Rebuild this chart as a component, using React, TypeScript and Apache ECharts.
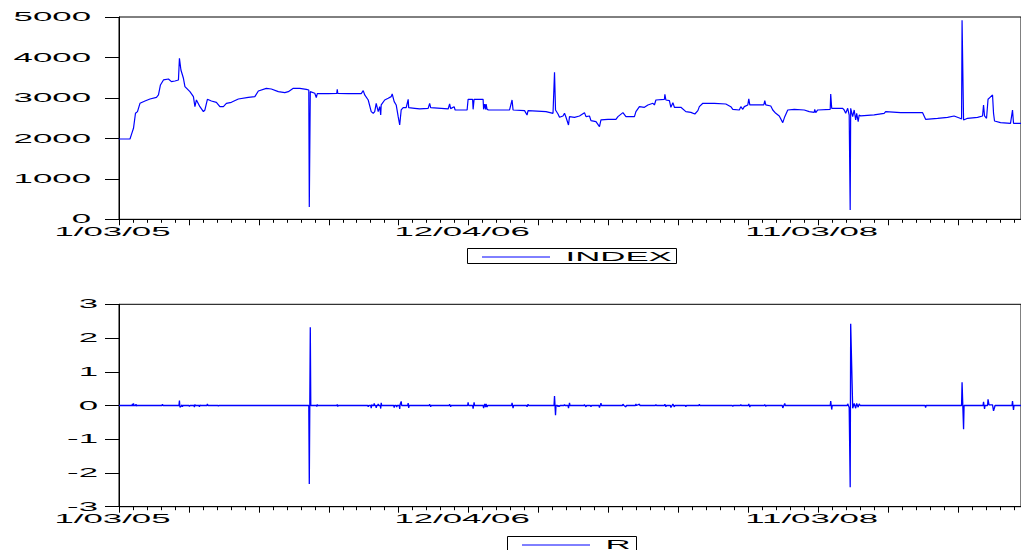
import React, { useEffect, useRef } from "react";
import * as echarts from "echarts";

// ---- data (day offset from 1/03/05, value) ----
const indexPoints: [number, number][] = [
  [0, 1985], [22, 1985], [25, 2100], [29, 2249], [33, 2620], [37, 2661], [42, 2867], [52, 2924], [62, 2974],
  [75, 3015], [79, 3073], [83, 3320], [89, 3444], [99, 3468], [105, 3402], [112, 3419], [119, 3444], [121, 3979],
  [124, 3691], [129, 3485], [132, 3279], [142, 3155], [149, 3032], [152, 2784], [155, 2949], [162, 2784], [169, 2661],
  [172, 2702], [177, 2966], [185, 2924], [195, 2891], [202, 2784], [209, 2784], [215, 2866], [225, 2891], [239, 2974],
  [259, 3015], [272, 3032], [279, 3172], [295, 3237], [305, 3221], [319, 3155], [332, 3130], [339, 3155], [349, 3237],
  [362, 3237], [375, 3213], [380, 3196], [381, 304], [383, 3155], [392, 3114], [395, 3007], [397, 3106], [419, 3106],
  [436, 3114], [437, 3213], [438, 3114], [459, 3106], [485, 3106], [489, 3180], [492, 3073], [499, 2949], [505, 2661],
  [509, 2620], [512, 2661], [515, 2867], [519, 2661], [522, 2784], [524, 2578], [525, 2826], [532, 2949], [539, 2990],
  [545, 3032], [547, 3097], [551, 2908], [555, 2826], [559, 2537], [562, 2331], [565, 2702], [569, 2760], [575, 2760],
  [579, 2966], [580, 2760], [592, 2743], [602, 2727], [619, 2743], [622, 2867], [624, 2760], [659, 2727], [662, 2850],
  [664, 2735], [671, 2784], [673, 2702], [697, 2702], [699, 2966], [708, 2966], [709, 2718], [711, 2966], [725, 2966],
  [729, 2966], [730, 2718], [732, 2850], [734, 2718], [735, 2850], [737, 2718], [740, 2702], [782, 2702], [787, 2949],
  [789, 2702], [812, 2686], [817, 2578], [819, 2686], [855, 2661], [869, 2620], [872, 3633], [874, 2702], [879, 2603],
  [882, 2521], [889, 2554], [892, 2620], [895, 2521], [900, 2331], [902, 2537], [912, 2521], [922, 2554], [932, 2636],
  [935, 2537], [942, 2554], [945, 2438], [955, 2414], [962, 2290], [965, 2455], [979, 2471], [995, 2471], [999, 2537],
  [1009, 2636], [1015, 2537], [1032, 2537], [1035, 2661], [1042, 2784], [1052, 2768], [1059, 2826], [1069, 2867],
  [1072, 2826], [1075, 2949], [1092, 2966], [1093, 3089], [1095, 2949], [1102, 2933], [1105, 2768], [1109, 2883],
  [1112, 2768], [1125, 2768], [1135, 2661], [1145, 2644], [1153, 2603], [1159, 2686], [1162, 2784], [1169, 2867],
  [1192, 2867], [1215, 2850], [1225, 2784], [1229, 2718], [1242, 2702], [1245, 2784], [1249, 2718], [1252, 2784],
  [1259, 2826], [1261, 2974], [1263, 2826], [1291, 2826], [1293, 2933], [1295, 2826], [1305, 2801], [1309, 2702],
  [1315, 2620], [1322, 2554], [1329, 2389], [1333, 2537], [1339, 2702], [1352, 2718], [1372, 2702], [1382, 2661],
  [1392, 2644], [1393, 2718], [1395, 2636], [1399, 2702], [1424, 2718], [1425, 3098], [1427, 2743], [1449, 2743],
  [1452, 2702], [1455, 2620], [1459, 2743], [1462, 2578], [1464, 230], [1465, 2743], [1469, 2537], [1472, 2702],
  [1475, 2455], [1477, 2620], [1480, 2414], [1482, 2578], [1485, 2554], [1512, 2579], [1532, 2620], [1535, 2661],
  [1565, 2636], [1609, 2636], [1615, 2471], [1639, 2496], [1659, 2521], [1672, 2554], [1684, 2496], [1687, 2480],
  [1688, 4920], [1691, 2455], [1699, 2496], [1719, 2521], [1729, 2554], [1731, 2826], [1733, 2554], [1737, 2496],
  [1740, 2966], [1744, 3015], [1749, 3073], [1751, 2620], [1753, 2430], [1765, 2389], [1785, 2372], [1789, 2702],
  [1791, 2372], [1806, 2372],
];

const returnPoints: [number, number][] = [
  [0, 0], [26, 0], [27, 0.05], [28, -0.02], [29, 0.06], [30, 0], [33, 0], [34, 0.04], [35, -0.02], [36, 0],
  [86, 0], [87, 0.04], [88, 0],
  [120, 0], [121, 0.15], [122, -0.05], [124, -0.03], [126, 0.02], [127, -0.04], [128, 0],
  [140, 0], [141, -0.03], [142, 0],
  [150, 0], [151, -0.05], [152, 0.03], [153, 0],
  [160, 0], [161, -0.04], [162, 0.02], [163, 0],
  [176, 0], [177, 0.05], [178, 0],
  [198, 0], [199, -0.02], [200, 0],
  [380, 0], [381, -2.33], [383, 2.32], [384, 0],
  [395, 0], [396, -0.03], [397, 0.03], [398, 0],
  [436, 0], [437, 0.03], [438, -0.03], [439, 0],
  [498, 0], [499, -0.04], [500, 0],
  [504, 0], [505, -0.08], [506, 0.03], [507, 0],
  [510, 0], [511, 0.06], [512, 0],
  [514, 0], [515, -0.07], [516, 0],
  [518, 0], [519, 0.05], [520, 0],
  [523, 0], [524, -0.09], [525, 0.08], [526, 0],
  [550, 0], [551, -0.06], [552, 0],
  [555, 0], [556, -0.05], [557, 0],
  [561, 0], [562, -0.1], [563, 0.04], [565, 0.12], [566, 0],
  [578, 0], [579, 0.07], [580, -0.07], [581, 0],
  [621, 0], [622, 0.04], [624, -0.04], [625, 0],
  [661, 0], [662, 0.04], [664, -0.04], [665, 0],
  [698, 0], [699, 0.09], [700, 0],
  [708, 0], [709, -0.09], [711, 0.09], [712, 0],
  [729, 0], [730, -0.08], [732, 0.05], [734, -0.05], [735, 0.05], [737, -0.05], [738, 0],
  [786, 0], [787, 0.08], [789, -0.08], [790, 0],
  [816, 0], [817, -0.04], [819, 0.04], [820, 0],
  [871, 0], [872, 0.28], [874, -0.29], [875, 0],
  [878, 0], [879, -0.04], [880, 0], [882, -0.03], [883, 0],
  [891, 0], [892, 0.03], [893, 0],
  [899, 0], [900, -0.08], [902, 0.08], [903, 0],
  [931, 0], [932, 0.03], [933, 0], [935, -0.04], [936, 0],
  [944, 0], [945, -0.04], [946, 0],
  [961, 0], [962, -0.06], [965, 0.07], [966, 0],
  [1008, 0], [1009, 0.04], [1011, 0], [1015, -0.04], [1016, 0],
  [1034, 0], [1035, 0.05], [1036, 0], [1042, 0.04], [1043, 0],
  [1074, 0], [1075, 0.03], [1076, 0],
  [1092, 0], [1093, 0.04], [1095, -0.04], [1096, 0],
  [1104, 0], [1105, -0.06], [1109, 0.04], [1112, -0.04], [1113, 0],
  [1134, 0], [1135, -0.04], [1136, 0],
  [1161, 0], [1162, 0.04], [1163, 0],
  [1228, 0], [1229, -0.03], [1230, 0],
  [1244, 0], [1245, 0.03], [1246, 0],
  [1260, 0], [1261, 0.05], [1263, -0.05], [1264, 0],
  [1292, 0], [1293, 0.03], [1295, -0.03], [1296, 0],
  [1328, 0], [1329, -0.07], [1333, 0.06], [1334, 0],
  [1424, 0], [1425, 0.13], [1427, -0.12], [1428, 0],
  [1458, 0], [1459, 0.05], [1462, -0.06], [1464, -2.42], [1465, 2.42], [1469, -0.08], [1472, 0.06], [1475, -0.08],
  [1477, 0.06], [1480, -0.05], [1482, 0.05], [1484, 0],
  [1614, 0], [1615, -0.06], [1616, 0],
  [1687, 0], [1688, 0.69], [1691, -0.7], [1692, 0],
  [1730, 0], [1731, 0.11], [1733, -0.1], [1734, 0],
  [1739, 0], [1740, 0.18], [1742, 0.02], [1749, 0.02], [1751, -0.16], [1753, -0.06], [1754, 0],
  [1788, 0], [1789, 0.13], [1791, -0.13], [1792, 0], [1806, 0],
];

const seriesNames = ["INDEX", "R"];
const indexTicks = [0, 1000, 2000, 3000, 4000, 5000];
const returnTicks = [-3, -2, -1, 0, 1, 2, 3];
const dateLabelDays = [0, 700, 1400];
const dateLabelTexts = ["1/03/05", "12/04/06", "11/03/08"];

const X_MAX = 1806;
const FONT = '12px "Liberation Sans", Arial, sans-serif';
const SX = 2.9;
const BLUE = "#0000ff";

function xAxisDef(gridIndex: number) {
  return {
    type: "value",
    gridIndex,
    min: 0,
    max: X_MAX,
    interval: 140,
    axisLine: { show: true, onZero: false, lineStyle: { color: "#000", width: 1 } },
    axisTick: { show: true, inside: false, length: 6, lineStyle: { color: "#000", width: 1 } },
    minorTick: { show: true, splitNumber: 5, length: 3.5, lineStyle: { color: "#000", width: 1 } },
    axisLabel: { show: false },
    splitLine: { show: false },
  };
}

function yAxisDef(gridIndex: number, ticks: number[]) {
  return {
    type: "value",
    gridIndex,
    min: ticks[0],
    max: ticks[ticks.length - 1],
    interval: ticks[1] - ticks[0],
    axisLine: { show: true, onZero: false, lineStyle: { color: "#000", width: 1 } },
    axisTick: { show: true, inside: false, length: 14, lineStyle: { color: "#000", width: 1 } },
    axisLabel: { show: false },
    splitLine: { show: false },
  };
}

export default function App() {
  const ref = useRef<HTMLDivElement>(null);

  useEffect(() => {
    if (!ref.current) return;
    const chart = echarts.init(ref.current, undefined, { renderer: "svg" });
    chart.setOption({
      animation: false,
      backgroundColor: "#fff",
      grid: [
        { left: 119, top: 17, width: 903, height: 202.3, show: true, borderColor: "#000", borderWidth: 1 },
        { left: 119, top: 304.3, width: 903, height: 202.4, show: true, borderColor: "#000", borderWidth: 1 },
      ],
      xAxis: [xAxisDef(0), xAxisDef(1)],
      yAxis: [yAxisDef(0, indexTicks), yAxisDef(1, returnTicks)],
      series: [
        {
          name: seriesNames[0],
          type: "line",
          xAxisIndex: 0,
          yAxisIndex: 0,
          data: indexPoints,
          showSymbol: false,
          lineStyle: { color: BLUE, width: 1.2 },
          itemStyle: { color: BLUE },
        },
        {
          name: seriesNames[1],
          type: "line",
          xAxisIndex: 1,
          yAxisIndex: 1,
          data: returnPoints,
          showSymbol: false,
          lineStyle: { color: BLUE, width: 1.3 },
          itemStyle: { color: BLUE },
        },
      ],
    });

    const graphics: any[] = [];
    const panels = [
      { grid: 0, ticks: indexTicks, labelGap: 28, legendW: 209 },
      { grid: 1, ticks: returnTicks, labelGap: 21, legendW: 129 },
    ];
    panels.forEach((p, i) => {
      const ticks = p.ticks;
      const [x0, yBottom] = chart.convertToPixel({ gridIndex: p.grid }, [0, ticks[0]]) as number[];
      const [x1] = chart.convertToPixel({ gridIndex: p.grid }, [X_MAX, ticks[0]]) as number[];
      ticks.forEach((t) => {
        const [, y] = chart.convertToPixel({ gridIndex: p.grid }, [0, t]) as number[];
        graphics.push({
          type: "text",
          x: x0 - p.labelGap,
          y,
          scaleX: SX,
          z: 50,
          style: { text: String(t), font: FONT, fill: "#000", align: "right", verticalAlign: "middle" },
        });
      });
      dateLabelDays.forEach((d, k) => {
        const [x] = chart.convertToPixel({ gridIndex: p.grid }, [d, ticks[0]]) as number[];
        graphics.push({
          type: "text",
          x: x - 6.5,
          y: yBottom + 12.5,
          scaleX: SX,
          z: 50,
          style: { text: dateLabelTexts[k], font: FONT, fill: "#000", align: "center", verticalAlign: "middle" },
        });
      });
      const cx = (x0 + x1) / 2 + 1;
      const left = Math.round(cx - p.legendW / 2) + 0.5;
      const top = Math.round(yBottom + 30) - 0.5;
      const midY = top + 8.5;
      graphics.push({
        type: "rect",
        z: 40,
        shape: { x: left, y: top, width: p.legendW, height: 15 },
        style: { fill: "#fff", stroke: "#000", lineWidth: 1 },
      });
      graphics.push({
        type: "line",
        z: 45,
        shape: { x1: left + 14.5, y1: midY, x2: left + 82.5, y2: midY },
        style: { stroke: BLUE, lineWidth: 1 },
      });
      graphics.push({
        type: "text",
        x: left + 98,
        y: midY,
        scaleX: SX,
        z: 50,
        style: { text: seriesNames[i], font: FONT, fill: "#000", align: "left", verticalAlign: "middle" },
      });
    });
    chart.setOption({ graphic: graphics });

    return () => chart.dispose();
  }, []);

  return (
    <div
      ref={ref}
      style={{ position: "fixed", left: 0, top: 0, width: 1021, height: 550, background: "#fff", overflow: "hidden" }}
    />
  );
}
